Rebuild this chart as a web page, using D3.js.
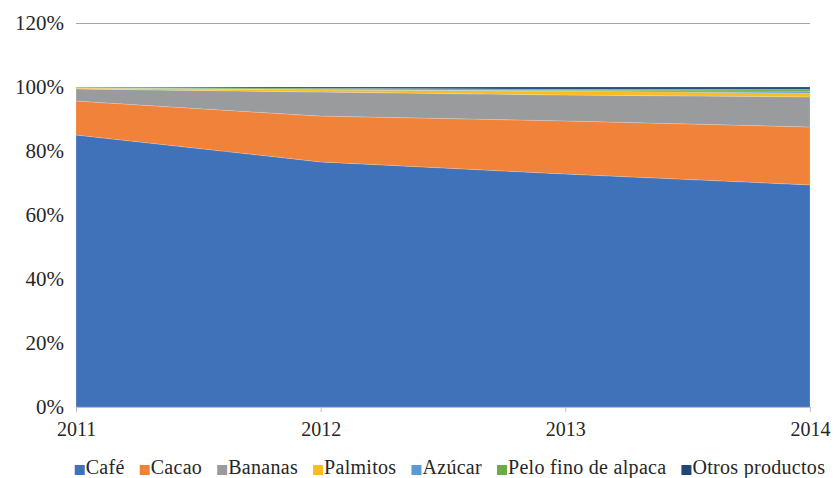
<!DOCTYPE html>
<html>
<head>
<meta charset="utf-8">
<script src="https://cdn.jsdelivr.net/npm/d3@7"></script>
<style>
  body { margin: 0; background: #fff; }
  text { font-family: "Liberation Serif", "DejaVu Serif", serif; fill: #262626; }
</style>
</head>
<body>
<div class="chart"></div>
<script>
// data (share of exports, %)
var years = [2011, 2012, 2013, 2014];
var series = ['Café', 'Cacao', 'Bananas', 'Palmitos', 'Azúcar', 'Pelo fino de alpaca', 'Otros productos'];
var cafe     = [85.0, 76.6, 72.8, 69.4];
var cacao    = [10.6, 14.3, 16.6, 18.1];
var bananas  = [3.8, 7.5, 8.1, 9.4];
var palmitos = [0.3, 0.7, 1.2, 1.2];
var azucar   = [0.05, 0.1, 0.2, 0.6];
var pelo     = [0.25, 0.4, 0.4, 0.6];
var otros    = [0.0, 0.4, 0.7, 0.7];
var yTicks = [0, 20, 40, 60, 80, 100, 120];
var colors = ['#4072b9', '#f0823a', '#999b9c', '#fbbc1f', '#5a9bd5', '#6cac48', '#234679'];

var values = [cafe, cacao, bananas, palmitos, azucar, pelo, otros];
var table = years.map(function (y, i) {
  var row = { year: y };
  series.forEach(function (s, j) { row[s] = values[j][i]; });
  return row;
});

var W = 834, H = 478;
var svg = d3.select('.chart').append('svg').attr('width', W).attr('height', H);

var x = d3.scaleLinear().domain([2011, 2014]).range([76, 810]);
var y = d3.scaleLinear().domain([0, 120]).range([407, 23]);

// gridline at 120% (others are under the areas)
svg.append('g').selectAll('line').data(yTicks).join('line')
  .attr('x1', 76).attr('x2', 810)
  .attr('y1', function (d) { return y(d) + 0.5; })
  .attr('y2', function (d) { return y(d) + 0.5; })
  .style('stroke', '#a6a6a6').style('stroke-width', 1);

var stack = d3.stack().keys(series).offset(d3.stackOffsetExpand);
var layers = stack(table);

var area = d3.area()
  .x(function (d) { return x(d.data.year); })
  .y0(function (d) { return y(d[0] * 100); })
  .y1(function (d) { return y(d[1] * 100); });

svg.append('g').selectAll('path').data(layers).join('path')
  .attr('d', area)
  .style('fill', function (d, i) { return colors[i]; })
  .style('stroke', 'rgba(255,255,255,0.35)')
  .style('stroke-width', 0.5);

// x axis
var xAxis = svg.append('g').attr('transform', 'translate(0,407)')
  .call(d3.axisBottom(x).tickValues(years).tickFormat(d3.format('d')).tickSize(5).tickPadding(10));
xAxis.select('.domain').style('stroke', '#bfbfbf');
xAxis.selectAll('.tick line').style('stroke', '#bfbfbf');
xAxis.selectAll('text').style('font-size', '20px').style('fill', '#262626')
  .style('font-family', '"Liberation Serif", serif');

// y axis labels
var yAxis = svg.append('g').attr('transform', 'translate(76,0)')
  .call(d3.axisLeft(y).tickValues(yTicks).tickFormat(function (d) { return d + '%'; }).tickSize(0).tickPadding(12));
yAxis.select('.domain').remove();
yAxis.selectAll('text').style('font-size', '21px').style('fill', '#262626')
  .style('font-family', '"Liberation Serif", serif');

// legend
var legend = svg.append('g');
var items = legend.selectAll('g').data(series).join('g');
items.append('rect').attr('width', 10).attr('height', 10).attr('y', -9)
  .style('fill', function (d, i) { return colors[i]; });
items.append('text').attr('x', 11).attr('y', 0)
  .style('font-size', '20px').style('letter-spacing', '0.3px')
  .text(function (d) { return d; });

var gap = 15, pos = 0;
items.each(function () {
  var g = d3.select(this);
  g.attr('transform', 'translate(' + pos + ',0)');
  pos += 11 + g.select('text').node().getComputedTextLength() + gap;
});
var total = pos - gap;
legend.attr('transform', 'translate(' + (450 - total / 2) + ',474)');
</script>
</body>
</html>
